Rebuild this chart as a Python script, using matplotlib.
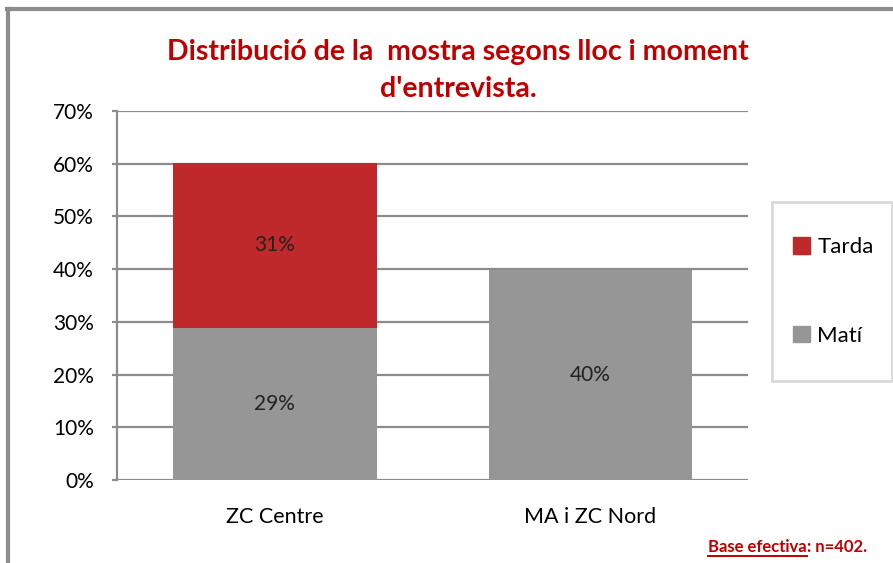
import matplotlib
matplotlib.use("Agg")
import matplotlib.pyplot as plt
from matplotlib.lines import Line2D
from matplotlib.patches import Rectangle
import numpy as np

# dades
categories = ["ZC Centre", "MA i ZC Nord"]
mati = [28.9, 39.8]
tarda = [31.2, 0.0]
series_names = ["Tarda", "Matí"]

red = "#C0292B"
grey = "#969696"
title_red = "#C00000"

plt.rcParams['font.family'] = ['Lato', 'DejaVu Sans']

fig = plt.figure(figsize=(8.93, 5.63), dpi=100)
ax = fig.add_axes([0.131, 0.147, 0.707, 0.656])

x = np.arange(len(categories))
w = 0.645
ax.bar(x, mati, w, color=grey, zorder=3, label=series_names[1])
ax.bar(x, tarda, w, bottom=mati, color=red, zorder=3, label=series_names[0])

# etiquetes dins les barres
for i in range(len(categories)):
    ax.text(x[i], mati[i] / 2, "%.0f%%" % mati[i], ha="center", va="center",
            fontsize=15, color="#222222", zorder=4)
    if tarda[i] > 0:
        ax.text(x[i], mati[i] + tarda[i] / 2, "%.0f%%" % tarda[i], ha="center",
                va="center", fontsize=15, color="#222222", zorder=4)

ax.set_xlim(-0.5, 1.5)
ax.set_ylim(0, 70)
ax.set_yticks(range(0, 71, 10))
ax.set_yticklabels(["%d%%" % v for v in range(0, 71, 10)], fontsize=15)
ax.set_xticks(x)
ax.set_xticklabels(categories, fontsize=15.5)
ax.grid(axis="y", color="#8c8c8c", linewidth=1.6, zorder=0)
for s in ["top", "right", "bottom"]:
    ax.spines[s].set_visible(False)
ax.spines["left"].set_color("#8c8c8c")
ax.spines["left"].set_linewidth(1.6)
ax.tick_params(axis="y", length=3.6, width=1.6, color="#8c8c8c", pad=13)
ax.tick_params(axis="x", length=0, pad=19)

# títol
fig.text(0.513, 0.875, "Distribució de la  mostra segons lloc i moment\nd'entrevista.",
         ha="center", va="center", fontsize=20.5, fontweight="bold", color=title_red,
         linespacing=1.5)

# llegenda
fig.add_artist(Rectangle((0.8645, 0.3233), 0.134, 0.318, transform=fig.transFigure,
                         facecolor="white", edgecolor="#d9d9d9", linewidth=2))
handles = [plt.Rectangle((0, 0), 1, 1, color=red), plt.Rectangle((0, 0), 1, 1, color=grey)]
leg = fig.legend(handles, series_names, loc="center left", bbox_to_anchor=(0.888, 0.482),
                 fontsize=16, frameon=False, handlelength=0.75,
                 handleheight=0.75, handletextpad=0.35, labelspacing=3.1,
                 borderpad=0, borderaxespad=0)

# marc del gràfic
fig.add_artist(Line2D([0.009, 0.009], [0.0, 0.984], color="#8c8c8c", linewidth=3,
                      transform=fig.transFigure))
fig.add_artist(Line2D([0.008, 1.0], [0.984, 0.984], color="#8c8c8c", linewidth=3,
                      transform=fig.transFigure))

# nota base
t1 = fig.text(0.793, 0.02, "Base efectiva", ha="left", va="baseline", fontsize=12,
              fontweight="bold", color=title_red)
fig.canvas.draw()
bb = t1.get_window_extent()
x1 = bb.x1 / fig.bbox.width
fig.text(x1, 0.02, ": n=402.", ha="left", va="baseline", fontsize=12,
         fontweight="bold", color=title_red)
fig.add_artist(Line2D([bb.x0 / fig.bbox.width, x1], [0.012, 0.012], color=title_red,
                      linewidth=1.4, transform=fig.transFigure))

fig.savefig("out.png", dpi=100)
